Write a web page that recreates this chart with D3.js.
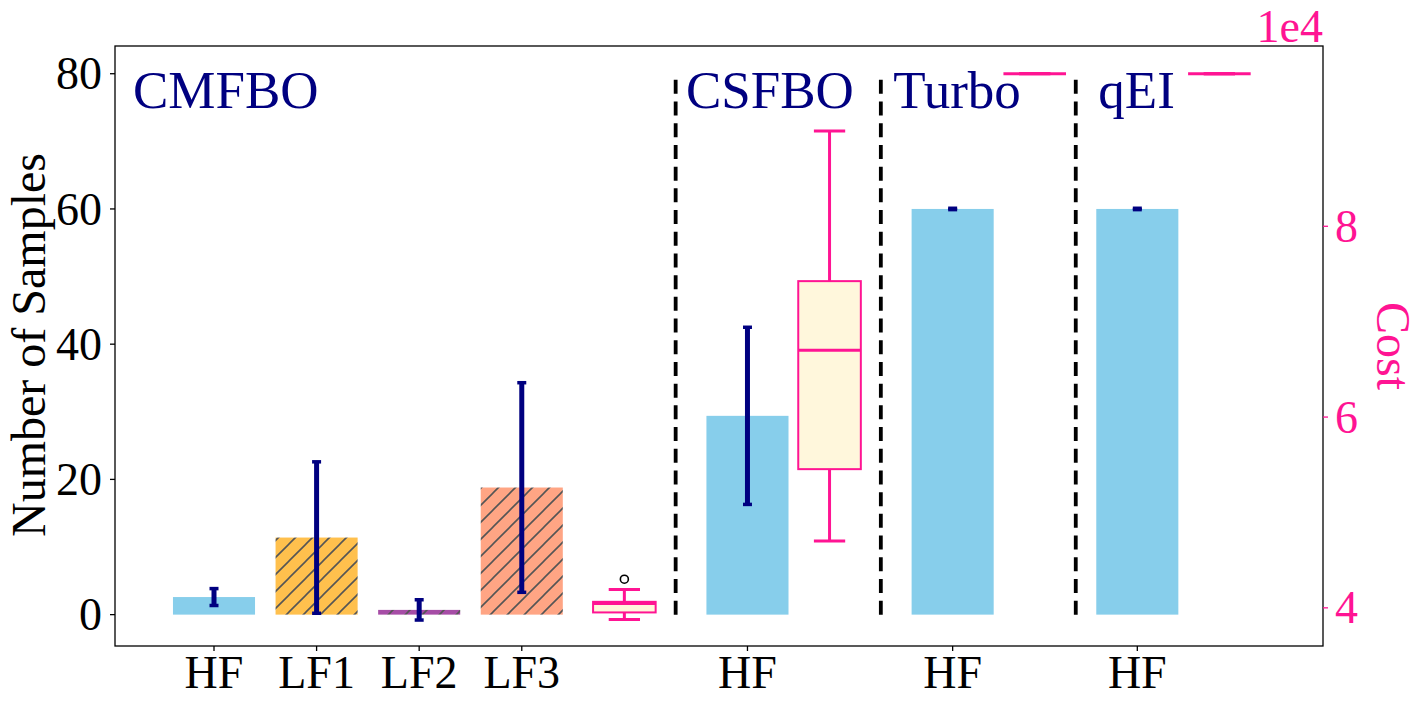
<!DOCTYPE html>
<html>
<head>
<meta charset="utf-8">
<script src="https://cdn.jsdelivr.net/npm/d3@7"></script>
<style>
  body { margin: 0; background: #fff; }
  svg text { font-family: "Liberation Serif", "DejaVu Serif", serif; }
</style>
</head>
<body>
<div id="chart"></div>
<script>
// bars: number of samples per fidelity (left axis)
var barX = [0, 1, 2, 3, 5.2, 7.2, 9.0]
var barLabels = ["HF", "LF1", "LF2", "LF3", "HF", "HF", "HF"]
var barMeans = [2.6, 11.4, 0.7, 18.8, 29.4, 60, 60]
var barErrs = [1.25, 11.2, 1.5, 15.5, 13.1, 0.1, 0.1]
var barKinds = ["hf", "lf1", "lf2", "lf3", "hf", "hf", "hf"]

// cost box plots (right axis, units of 1e4)
var boxX = [4, 6, 8, 9.8]
var boxLow = [3.878, 4.70, 9.60, 9.60]
var boxQ1 = [3.952, 5.454, 9.60, 9.60]
var boxMed = [4.046, 6.70, 9.60, 9.60]
var boxQ3 = [4.063, 7.425, 9.60, 9.60]
var boxHigh = [4.193, 9.00, 9.60, 9.60]
var boxOutliers = [[4.30], [], [], []]

// method groups
var groupNames = ["CMFBO", "CSFBO", "Turbo", "qEI"]
var groupTextX = [-0.79, 4.6, 6.62, 8.62]
var separatorX = [4.5, 6.5, 8.4]

var leftTicks = [0, 20, 40, 60, 80]
var rightTicks = [4, 6, 8]

var fills = {hf: "#87CEEB", lf1: "#FFC04D", lf2: "#A64DA6", lf3: "#FFA584"}
var navy = "#000080", pink = "#FF1493"

var W = 1421, H = 709
var L = 115, R = 1323, T = 46, B = 646

var svg = d3.select("#chart").append("svg")
    .attr("width", W).attr("height", H)

var x = d3.scaleLinear().domain([-0.965, 10.81]).range([L, R])
var y = d3.scaleLinear().domain([-4.64, 84.1]).range([B, T])
var y2 = d3.scaleLinear().domain([3.60, 9.89]).range([B, T])

// hatch pattern
var defs = svg.append("defs")
function make_hatch(id, color){
    var p = defs.append("pattern").attr("id", id)
        .attr("patternUnits", "userSpaceOnUse")
        .attr("width", 17).attr("height", 17)
    p.append("rect").attr("width", 17).attr("height", 17).attr("fill", color)
    p.append("path").attr("d", "M0,17L17,0M-4,4L4,-4M13,21L21,13")
        .attr("stroke", "#555").attr("stroke-width", 1.6)
}
make_hatch("h-lf1", fills.lf1)
make_hatch("h-lf2", fills.lf2)
make_hatch("h-lf3", fills.lf3)

var bw = 0.8
var bars = barX.map(function(v, i){ return {x: v, m: barMeans[i], e: barErrs[i], k: barKinds[i]} })

svg.append("g").selectAll("rect").data(bars).join("rect")
    .attr("x", d => x(d.x - bw / 2))
    .attr("width", d => x(d.x + bw / 2) - x(d.x - bw / 2))
    .attr("y", d => y(d.m))
    .attr("height", d => y(0) - y(d.m))
    .attr("fill", d => d.k == "hf" ? fills.hf : "url(#h-" + d.k + ")")

// error bars
var eg = svg.append("g").attr("stroke", navy)
eg.selectAll("line.err").data(bars).join("line").attr("class", "err")
    .attr("x1", d => x(d.x)).attr("x2", d => x(d.x))
    .attr("y1", d => y(d.m - d.e)).attr("y2", d => y(d.m + d.e))
    .attr("stroke-width", 5)
bars.forEach(function(d){
    [d.m - d.e, d.m + d.e].forEach(function(v){
        eg.append("line")
            .attr("x1", x(d.x) - 4.5).attr("x2", x(d.x) + 4.5)
            .attr("y1", y(v)).attr("y2", y(v))
            .attr("stroke-width", 3.5)
    })
})

// separators
svg.append("g").selectAll("line").data(separatorX).join("line")
    .attr("x1", d => x(d)).attr("x2", d => x(d))
    .attr("y1", y(0)).attr("y2", y(80))
    .attr("stroke", "#000").attr("stroke-width", 3.8)
    .attr("stroke-dasharray", "14,7.7")

// box plots
var boxW = 0.61
var bg = svg.append("g")
boxX.forEach(function(bx, i){
    var cx = x(bx), hw = (x(bx + boxW / 2) - x(bx - boxW / 2)) / 2
    // whiskers
    bg.append("line").attr("x1", cx).attr("x2", cx)
        .attr("y1", y2(boxQ3[i])).attr("y2", y2(boxHigh[i]))
        .attr("stroke", pink).attr("stroke-width", 3)
    bg.append("line").attr("x1", cx).attr("x2", cx)
        .attr("y1", y2(boxQ1[i])).attr("y2", y2(boxLow[i]))
        .attr("stroke", pink).attr("stroke-width", 3)
    ;[boxLow[i], boxHigh[i]].forEach(function(v){
        bg.append("line").attr("x1", cx - hw / 2).attr("x2", cx + hw / 2)
            .attr("y1", y2(v)).attr("y2", y2(v))
            .attr("stroke", pink).attr("stroke-width", 3)
    })
    bg.append("rect").attr("x", cx - hw).attr("width", 2 * hw)
        .attr("y", y2(boxQ3[i])).attr("height", y2(boxQ1[i]) - y2(boxQ3[i]))
        .attr("fill", "#FFF7DC").attr("stroke", pink).attr("stroke-width", 2)
    bg.append("line").attr("x1", cx - hw).attr("x2", cx + hw)
        .attr("y1", y2(boxMed[i])).attr("y2", y2(boxMed[i]))
        .attr("stroke", pink).attr("stroke-width", 3)
    boxOutliers[i].forEach(function(v){
        bg.append("circle").attr("cx", cx).attr("cy", y2(v)).attr("r", 4)
            .attr("fill", "none").attr("stroke", "#000").attr("stroke-width", 1.6)
    })
})

// group labels
svg.append("g").selectAll("text").data(groupNames).join("text")
    .attr("x", (d, i) => x(groupTextX[i]))
    .attr("y", y(75))
    .attr("fill", navy).attr("font-size", 53)
    .text(d => d)

// frame
svg.append("rect").attr("x", L).attr("y", T).attr("width", R - L).attr("height", B - T)
    .attr("fill", "none").attr("stroke", "#000").attr("stroke-width", 1.3)

// left axis
var la = svg.append("g")
leftTicks.forEach(function(t){
    la.append("line").attr("x1", L - 5).attr("x2", L).attr("y1", y(t)).attr("y2", y(t))
        .attr("stroke", "#000").attr("stroke-width", 1.3)
    la.append("text").attr("x", L - 13).attr("y", y(t)).attr("dy", "0.34em")
        .attr("text-anchor", "end").attr("font-size", 46).text(t)
})
svg.append("text").attr("transform", "translate(45," + ((T + B) / 2 - 1) + ") rotate(-90)")
    .attr("text-anchor", "middle").attr("font-size", 48).text("Number of Samples")

// bottom axis
var ba = svg.append("g")
barX.forEach(function(v, i){
    ba.append("line").attr("x1", x(v)).attr("x2", x(v)).attr("y1", B).attr("y2", B + 5)
        .attr("stroke", "#000").attr("stroke-width", 1.3)
    ba.append("text").attr("x", x(v)).attr("y", 688)
        .attr("text-anchor", "middle").attr("font-size", 46).text(barLabels[i])
})

// right axis
var ra = svg.append("g")
rightTicks.forEach(function(t){
    ra.append("line").attr("x1", R).attr("x2", R + 5).attr("y1", y2(t)).attr("y2", y2(t))
        .attr("stroke", pink).attr("stroke-width", 1.3)
    ra.append("text").attr("x", R + 12).attr("y", y2(t)).attr("dy", "0.34em")
        .attr("fill", pink).attr("font-size", 46).text(t)
})
svg.append("text").attr("x", R).attr("y", 42).attr("text-anchor", "end")
    .attr("fill", pink).attr("font-size", 46).text("1e4")
svg.append("text").attr("transform", "translate(1377,346) rotate(90)")
    .attr("text-anchor", "middle").attr("fill", pink).attr("font-size", 48).text("Cost")
</script>
</body>
</html>
